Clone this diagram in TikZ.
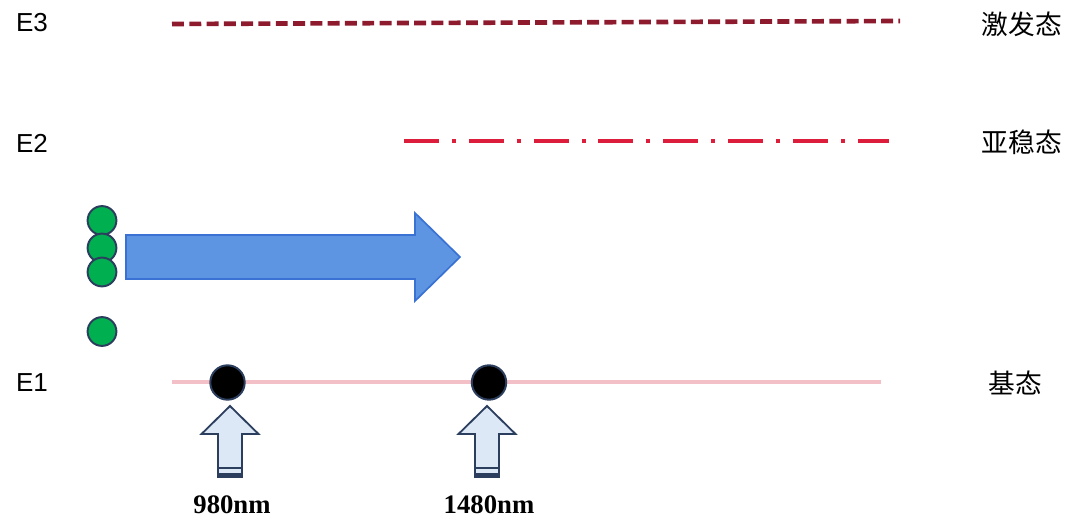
\documentclass[tikz,border=0pt]{standalone}
\usepackage{fontspec}
\setmainfont{Liberation Serif}
\setsansfont{Liberation Sans}
\newfontfamily\cjkfont{Noto Sans CJK SC}
\usetikzlibrary{positioning}
\definecolor{excited}{HTML}{8E1A2E}
\definecolor{metastable}{HTML}{DC1E3C}
\definecolor{ground}{HTML}{F4C0C8}
\definecolor{ion}{HTML}{00B050}
\definecolor{rim}{HTML}{2C3E5E}
\definecolor{flowfill}{HTML}{5E95E3}
\definecolor{flowdraw}{HTML}{3A72D4}
\definecolor{pumpfill}{HTML}{DDE8F7}

\begin{document}
\begin{tikzpicture}[
  x=0.025cm,
  y=-0.025cm,
  level/.style={font=\sffamily\fontsize{18.5}{20}\selectfont,inner sep=0pt},
  state/.style={font=\cjkfont\fontsize{19}{21}\selectfont,inner sep=0pt},
  wavelength/.style={font=\bfseries\fontsize{19}{21}\selectfont,inner sep=0pt},
  particle/.style={
    circle,
    draw=rim,
    line width=1.4pt,
    fill=ion,
    minimum size=0.72cm,
    inner sep=0pt
  },
  pumped/.style={particle,fill=black,minimum size=0.86cm},
  pumpbody/.style={draw=rim,fill=pumpfill,line width=1.3pt,line join=miter},
  flow/.style={draw=flowdraw,fill=flowfill,line width=1.2pt}
]
\useasboundingbox (0,0) rectangle (1080,524);

% Energy levels
\node[level] (E3) at (32,23) {E3};
\node[level] (E2) at (32,143) {E2};
\node[level] (E1) at (32,383) {E1};
\node[state] (excitedlabel) at (1022,24) {激发态};
\node[state] (metalabel) at (1022,142) {亚稳态};
\node[state] (groundlabel) at (1015,383) {基态};

\coordinate (e3start) at (172,24);
\coordinate (e3end) at (900,21);
\coordinate (e2start) at (404,141);
\coordinate (e2end) at (889,141);
\coordinate (e1start) at (172,382);
\coordinate (e1end) at (881,382);

\draw[excited,line width=3.3pt,dash pattern=on 8.5pt off 3.8pt] (e3start) -- (e3end);
\draw[metastable,line width=3pt,
  dash pattern=on 24.9pt off 9.2pt on 2.8pt off 9.2pt] (e2start) -- (e2end);
\draw[ground,line width=2.2pt] (e1start) -- (e1end);

% Particles
\node[particle] (p1) at (102,220.5) {};
\node[particle] (p2) at (102,248) {};
\node[particle] (p3) at (102,272) {};
\node[particle] (p4) at (102,331.5) {};

% Population transfer arrow
\draw[flow] (126,235) -- (415,235) -- (415,213) -- (460,257)
  -- (415,301) -- (415,279) -- (126,279) -- cycle;

% Pump sources
\node[pumped] (g980) at (227.5,382.5) {};
\node[pumped] (g1480) at (489,382.5) {};

\foreach \cx/\nm/\lbl in {230/p980/980nm,487/p1480/1480nm}{
  \draw[pumpbody] (\cx,406) -- (\cx+28.5,434) -- (\cx+12,434) -- (\cx+12,477)
    -- (\cx-12,477) -- (\cx-12,434) -- (\cx-28.5,434) -- cycle;
  \draw[rim,line width=1.5pt] (\cx-12,468) -- (\cx+12,468);
  \fill[rim] (\cx-12,472.5) rectangle (\cx+12,477.5);
  \node[wavelength] (\nm) at (\cx+2,505) {\lbl};
}
\end{tikzpicture}
\end{document}
